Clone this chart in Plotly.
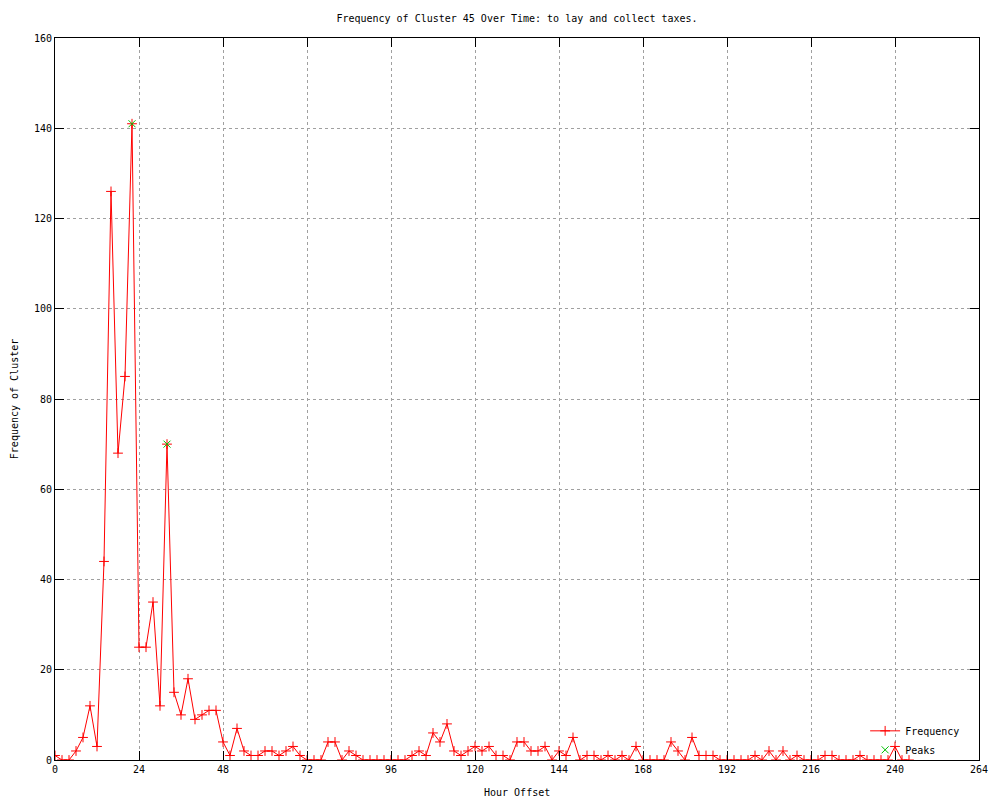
import plotly.graph_objects as go

hours = [0, 2, 4, 6, 8, 10, 12, 14, 16, 18, 20, 22, 24, 26, 28, 30, 32, 34, 36, 38,
         40, 42, 44, 46, 48, 50, 52, 54, 56, 58, 60, 62, 64, 66, 68, 70, 72, 74, 76, 78,
         80, 82, 84, 86, 88, 90, 92, 94, 96, 98, 100, 102, 104, 106, 108, 110, 112, 114, 116, 118,
         120, 122, 124, 126, 128, 130, 132, 134, 136, 138, 140, 142, 144, 146, 148, 150, 152, 154, 156, 158,
         160, 162, 164, 166, 168, 170, 172, 174, 176, 178, 180, 182, 184, 186, 188, 190, 192, 194, 196, 198,
         200, 202, 204, 206, 208, 210, 212, 214, 216, 218, 220, 222, 224, 226, 228, 230, 232, 234, 236, 238,
         240, 242, 244]

freq = [1, 0, 0, 2, 5, 12, 3, 44, 126, 68, 85, 141, 25, 25, 35, 12, 70, 15, 10, 18,
        9, 10, 11, 11, 4, 1, 7, 2, 1, 1, 2, 2, 1, 2, 3, 1, 0, 0, 0, 4,
        4, 0, 2, 1, 0, 0, 0, 0, 0, 0, 0, 1, 2, 1, 6, 4, 8, 2, 1, 2,
        3, 2, 3, 1, 1, 0, 4, 4, 2, 2, 3, 0, 2, 1, 5, 0, 1, 1, 0, 1,
        0, 1, 0, 3, 0, 0, 0, 0, 4, 2, 0, 5, 1, 1, 1, 0, 0, 0, 0, 0,
        1, 0, 2, 0, 2, 0, 1, 0, 0, 0, 1, 1, 0, 0, 0, 1, 0, 0, 0, 0,
        3, 0, 0]

peak_hours = [22, 32]
peak_vals = [141, 70]

x_ticks = [0, 24, 48, 72, 96, 120, 144, 168, 192, 216, 240, 264]
y_ticks = [0, 20, 40, 60, 80, 100, 120, 140, 160]

FONT = "DejaVu Sans Mono"
FS = 10

fig = go.Figure()
fig.add_trace(go.Scatter(x=hours, y=freq, mode='lines+markers', name='Frequency',
                         line=dict(color='#ff0000', width=1),
                         marker=dict(symbol='cross-thin-open', size=7, color='#ff0000',
                                     line=dict(color='#ff0000', width=1))))
fig.add_trace(go.Scatter(x=peak_hours, y=peak_vals, mode='markers', name='Peaks',
                         marker=dict(symbol='x-thin-open', size=7, color='#00c000',
                                     line=dict(color='#00c000', width=1))))

axis_style = dict(showline=True, linecolor='black', linewidth=1, mirror='allticks',
                  ticks='inside', ticklen=9, tickcolor='black', tickwidth=1,
                  showgrid=True, gridcolor='#a0a0a0', griddash='dot', gridwidth=1,
                  zeroline=False, tickfont=dict(family=FONT, size=FS, color='black'))

fig.update_xaxes(range=[0, 264], tickvals=x_ticks, **axis_style)
fig.update_yaxes(range=[0, 160], tickvals=y_ticks, **axis_style)

fig.update_layout(
    width=1000, height=800,
    margin=dict(l=55, r=17, t=38, b=40),
    paper_bgcolor='white', plot_bgcolor='white',
    font=dict(family=FONT, size=FS, color='black'),
    title=dict(text='Frequency of Cluster 45 Over Time: to lay and collect taxes.',
               x=0.5, xref='paper', y=1 - 18 / 800, yanchor='middle',
               font=dict(family=FONT, size=FS, color='black')),
    showlegend=True,
    legend=dict(x=0.985, y=-0.006, xanchor='right', yanchor='bottom', bgcolor='rgba(0,0,0,0)',
                font=dict(family=FONT, size=FS), tracegroupgap=0, itemwidth=30),
    annotations=[
        dict(text='Hour Offset', xref='paper', yref='paper', x=0.5, y=-33 / 722,
             showarrow=False, yanchor='middle', font=dict(family=FONT, size=FS)),
        dict(text='Frequency of Cluster', xref='paper', yref='paper', x=-41 / 928, y=0.5,
             showarrow=False, textangle=-90, xanchor='center', font=dict(family=FONT, size=FS)),
    ],
)

fig.write_html("out.html", config={'displayModeBar': False},
               post_script="document.body.style.margin='0px';")
